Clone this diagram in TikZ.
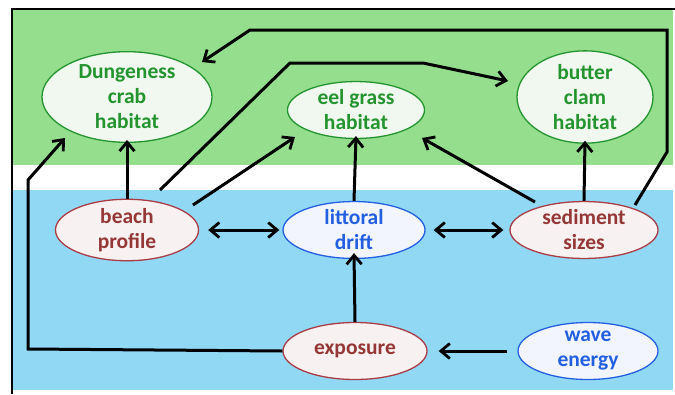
\documentclass[tikz,border=0pt]{standalone}
\usepackage{fontspec}
\setmainfont{Carlito}
\usetikzlibrary{arrows.meta,shapes.geometric}
\definecolor{landgreen}{RGB}{148,222,142}
\definecolor{seablue}{RGB}{144,216,244}
\definecolor{habgreen}{RGB}{36,148,46}
\definecolor{physred}{RGB}{150,55,55}
\definecolor{physredline}{RGB}{170,60,70}
\definecolor{forceblue}{RGB}{35,95,225}
\tikzset{
  barb/.tip={Straight Barb[length=9pt,width=15pt,line width=2.8pt]}
}
\begin{document}
\begin{tikzpicture}[x=1pt,y=-1pt,
  every node/.style={font=\bfseries\fontsize{21.5}{25}\selectfont, align=center, inner sep=0pt},
  bubble/.style={ellipse, line width=1.3pt, minimum width=#1},
  habitat/.style={bubble=136, draw=habgreen, text=habgreen, fill=white!93!habgreen},
  physical/.style={bubble=143, draw=physredline, text=physred, fill=white!93!physred, minimum height=55},
  forcing/.style={bubble=142, draw=forceblue, text=forceblue, fill=white!94!forceblue, minimum height=55},
  link/.style={line width=3pt, -barb},
  twoway/.style={line width=3pt, barb-barb}]
  \useasboundingbox (0,0) rectangle (675,394);
  % background bands: shore habitats above, coastal processes below
  \fill[landgreen] (12,9) rectangle (673,165);
  \fill[seablue] (12,190) rectangle (673,390);
  \draw[line width=1.8pt] (12,394) -- (12,9) -- (675,9);

  % habitats
  \node[habitat, minimum width=170, minimum height=80] (crab) at (127,97) {Dungeness\\crab\\habitat};
  \node[habitat, minimum width=137, minimum height=54] (eel) at (356,110) {eel grass\\habitat};
  \node[habitat, minimum width=136, minimum height=80] (clam) at (585,97) {butter\\clam\\habitat};

  % physical factors and drivers
  \node[physical] (beach) at (127,230) {beach\\profile};
  \node[forcing] (drift) at (354,230) {littoral\\drift};
  \node[physical, minimum width=148] (sed) at (584,230) {sediment\\sizes};
  \node[physical, minimum width=144, minimum height=57] (expo) at (355,351) {exposure};
  \node[forcing, minimum width=140, minimum height=57] (wave) at (588,351) {wave\\energy};

  % bend points of the routed connectors
  \coordinate (b1) at (290,63);
  \coordinate (b2) at (423,63);
  \coordinate (e1) at (28,349);
  \coordinate (e2) at (28,180);
  \coordinate (s1) at (667,152);
  \coordinate (s2) at (667,30);
  \coordinate (s3) at (250,30);

  % connectors
  \draw[link] (beach.north) -- ([yshift=3pt]crab.south);
  \draw[link] ([shift={(66,-25)}]beach.center) -- ([shift={(-61,27)}]eel.center);
  \draw[link] ([shift={(33,-40)}]beach.center) -- (b1) -- (b2) -- ([shift={(-77,-16)}]clam.center);
  \draw[link] (expo.west) -- (e1) -- (e2) -- ([shift={(-62,41)}]crab.center);
  \draw[link] ([shift={(51,-25)}]sed.center) -- (s1) -- (s2) -- (s3) -- ([shift={(75,-35)}]crab.center);
  \draw[link] ([shift={(-49,-28)}]sed.center) -- ([shift={(66,28)}]eel.center);
  \draw[link] (sed.north) -- ([yshift=3pt]clam.south);
  \draw[link] (drift.north) -- ([yshift=3pt]eel.south);
  \draw[link] (expo.north) -- ([yshift=6pt]drift.south);
  \draw[link] ([xshift=-10pt]wave.west) -- ([xshift=11pt]expo.east);
  \draw[twoway] ([xshift=9pt]beach.east) -- ([xshift=-3pt]drift.west);
  \draw[twoway] ([xshift=8pt]drift.east) -- ([xshift=-6pt]sed.west);
\end{tikzpicture}
\end{document}
